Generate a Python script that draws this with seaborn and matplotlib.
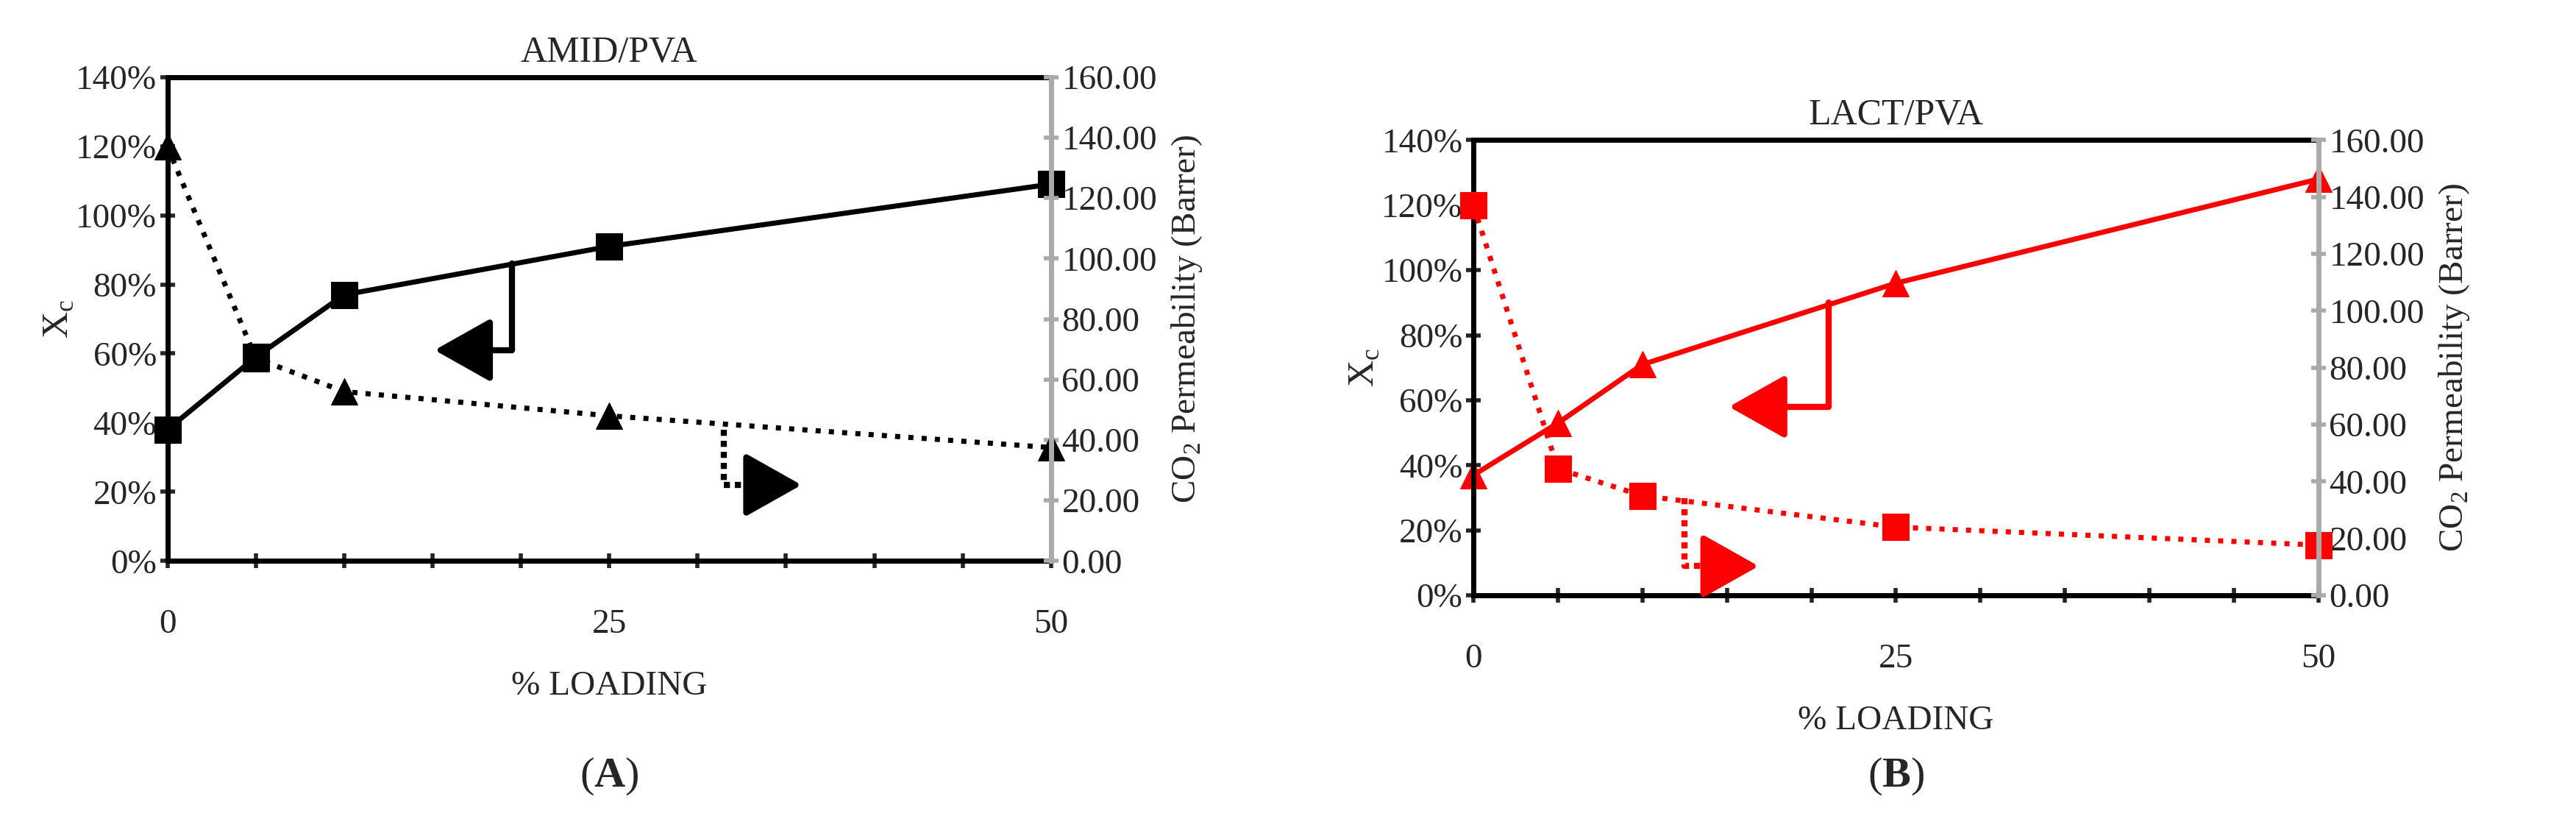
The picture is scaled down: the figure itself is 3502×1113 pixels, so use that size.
import matplotlib
matplotlib.use("Agg")
import matplotlib.pyplot as plt
import seaborn as sns
import pandas as pd
from matplotlib.ticker import PercentFormatter, FormatStrFormatter, MultipleLocator, FixedLocator

sns.set_style("white")
plt.rcParams['font.family'] = ['Liberation Serif', 'DejaVu Serif']
plt.rcParams['mathtext.fontset'] = 'custom'
plt.rcParams['mathtext.rm'] = 'Liberation Serif'
plt.rcParams['mathtext.bf'] = 'Liberation Serif:bold'

loading = [0, 5, 10, 25, 50]
amid_xc = [0.38, 0.59, 0.77, 0.91, 1.09]
amid_perm = [137, 67, 56, 48, 37.5]
lact_xc = [0.37, 0.53, 0.71, 0.96, 1.28]
lact_perm = [137, 44.5, 35, 24, 17.7]

fig = plt.figure(figsize=(35.02, 11.13), dpi=100)

def panel(rect, title, xc, perm, color, xc_marker, perm_marker, solid_arrow, dot_arrow, label):
    ax = fig.add_axes(rect)
    df = pd.DataFrame({"load": loading, "xc": xc, "perm": perm})
    sns.lineplot(data=df, x="load", y="xc", ax=ax, color=color, lw=5, marker=xc_marker,
                 markersize=26, markeredgecolor=color, markerfacecolor=color)
    ax.set_xlim(0, 50); ax.set_ylim(0, 1.4)
    ax.yaxis.set_major_locator(MultipleLocator(0.2))
    ax.yaxis.set_major_formatter(PercentFormatter(1.0, decimals=0))
    ax.xaxis.set_major_locator(FixedLocator([0, 25, 50]))
    ax.xaxis.set_minor_locator(MultipleLocator(5))
    ax.tick_params(axis='x', which='both', bottom=True, direction='inout', length=14, width=4, pad=40, labelsize=34)
    ax.tick_params(axis='y', left=True, direction='inout', length=14, width=4, labelsize=34)
    for s in ['left', 'bottom', 'top']:
        ax.spines[s].set_linewidth(5); ax.spines[s].set_color('black')
    ax.spines['right'].set_visible(False)
    ax.set_xlabel("% LOADING", fontsize=34, labelpad=30)
    ax.set_ylabel("X$_\\mathregular{c}$", fontsize=36, labelpad=0)
    ax.set_title(title, fontsize=36, pad=15)
    for l in ax.lines:
        l.set_clip_on(False)
    ax2 = ax.twinx()
    sns.lineplot(data=df, x="load", y="perm", ax=ax2, color=color, lw=5, linestyle=(0, (1, 1.6)),
                 marker=perm_marker, markersize=26, markeredgecolor=color, markerfacecolor=color)
    for l in ax2.lines:
        l.set_clip_on(False)
    ax2.set_ylim(0, 160)
    ax2.yaxis.set_major_locator(MultipleLocator(20))
    ax2.yaxis.set_major_formatter(FormatStrFormatter('%.2f'))
    ax2.tick_params(axis='y', right=True, direction='inout', length=14, width=4, labelsize=34, color='#aaaaaa')
    for s in ['left', 'bottom', 'top']:
        ax2.spines[s].set_visible(False)
    ax2.spines['right'].set_linewidth(5); ax2.spines['right'].set_color('#aaaaaa')
    ax2.set_ylabel("CO$_\\mathregular{2}$ Permeability (Barrer)", fontsize=34, labelpad=12)
    ax2.set_xlabel("")
    hs = "-|>,head_length=0.8,head_width=0.45"
    x0, y0, y1, x1 = solid_arrow
    ax.plot([x0, x0, x1 + 2], [y0, y1, y1], color=color, lw=6, clip_on=False)
    ax.annotate("", xy=(x1, y1), xytext=(x1 + 2.5, y1),
                arrowprops=dict(arrowstyle=hs, color=color, lw=6, mutation_scale=60))
    x0, y0, y1, x1 = dot_arrow
    ax.plot([x0, x0, x1 - 2], [y0, y1, y1], color=color, lw=6, linestyle=(0, (1, 0.8)), clip_on=False)
    ax.annotate("", xy=(x1, y1), xytext=(x1 - 2.5, y1),
                arrowprops=dict(arrowstyle=hs, color=color, lw=6, mutation_scale=60))
    fig.text(rect[0] + rect[2] / 2, 0.04, label, ha='center', fontsize=42)
    return ax

panel([0.065, 0.315, 0.343, 0.591], "AMID/PVA", amid_xc, amid_perm, 'black', 's', '^',
      (19.5, 0.86, 0.61, 15.0), (31.5, 0.38, 0.22, 36.0), "($\\mathbf{A}$)")
panel([0.572, 0.273, 0.328, 0.556], "LACT/PVA", lact_xc, lact_perm, '#ff0000', '^', 's',
      (21.0, 0.90, 0.58, 15.0), (12.5, 0.30, 0.09, 17.0), "($\\mathbf{B}$)")
fig.savefig("out.png", dpi=100)
